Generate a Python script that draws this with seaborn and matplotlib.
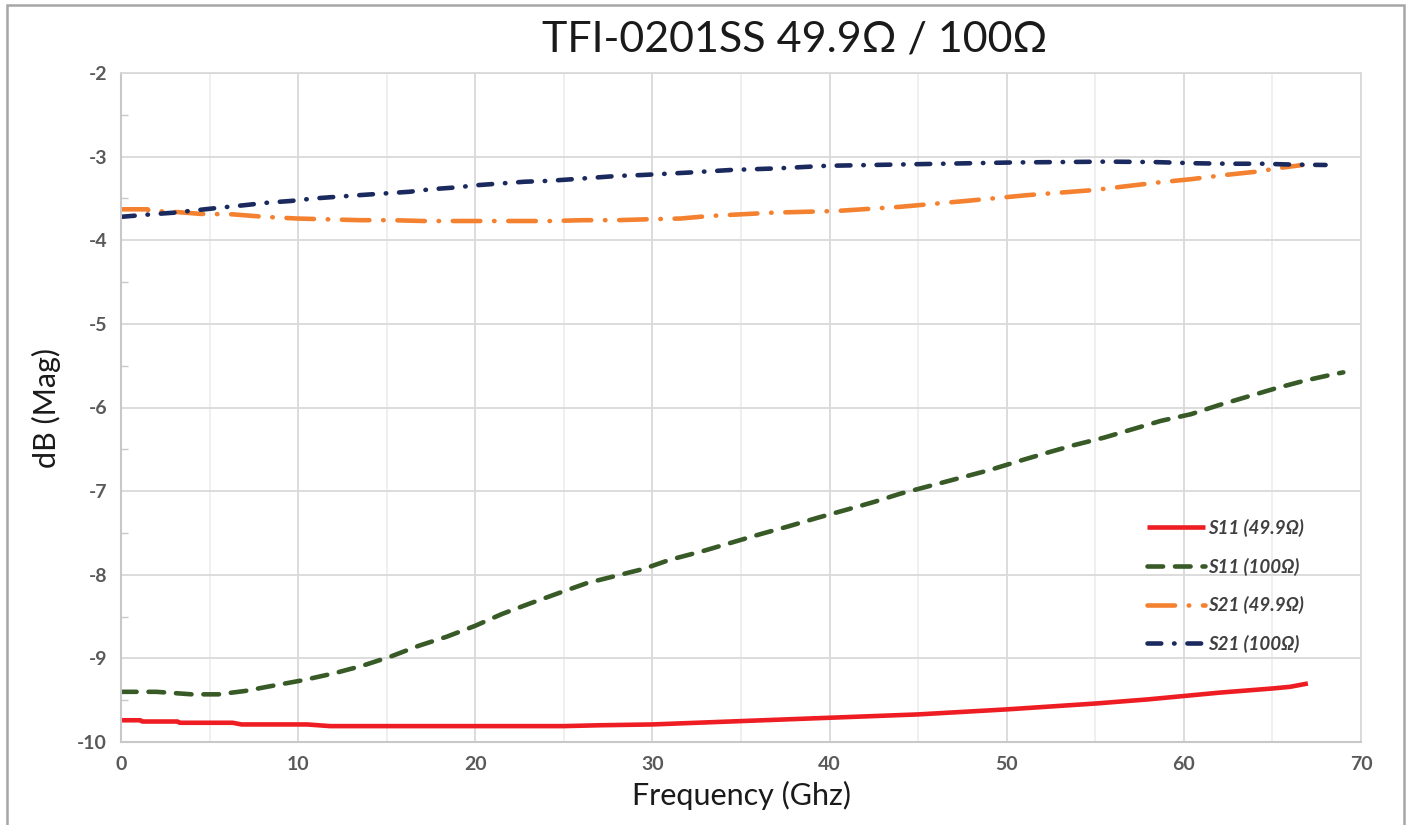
import matplotlib
matplotlib.use("Agg")
import matplotlib.pyplot as plt
import matplotlib.patches as mpatches
from matplotlib.ticker import MultipleLocator
import seaborn as sns
import pandas as pd

# ---- data ----
title = "TFI-0201SS 49.9Ω / 100Ω"
series_names = ["S11 (49.9Ω)", "S11 (100Ω)", "S21 (49.9Ω)", "S21 (100Ω)"]

s11_50_f = [0, 1.1, 1.2, 3.2, 3.3, 6.3, 6.8, 10.5, 11.8, 20, 25, 27, 30, 35, 40, 45, 50, 55, 58, 60, 62, 65, 66, 67]
s11_50_v = [-9.74, -9.74, -9.755, -9.755, -9.77, -9.77, -9.79, -9.79, -9.81, -9.81, -9.81, -9.80, -9.79, -9.75,
            -9.71, -9.67, -9.61, -9.54, -9.49, -9.45, -9.41, -9.36, -9.34, -9.30]

s11_100_f = [0, 2, 4, 5.5, 7, 8.5, 10.3, 12, 13.6, 15.2, 16.8, 18.4, 20, 21.5, 23, 24.7, 26.3, 28, 29.5, 31,
             32.8, 34.4, 36, 37.7, 39.3, 41, 42.5, 44, 45.8, 47.4, 49, 50.7, 52.3, 53.8, 55.5, 57.1, 58.7, 60.4,
             62, 63.6, 65.2, 66.8, 68.5, 69]
s11_100_v = [-9.40, -9.40, -9.43, -9.43, -9.39, -9.33, -9.26, -9.18, -9.09, -8.98, -8.85, -8.74, -8.61, -8.47,
             -8.35, -8.22, -8.10, -8.01, -7.93, -7.82, -7.72, -7.62, -7.52, -7.42, -7.32, -7.22, -7.13, -7.03,
             -6.93, -6.84, -6.75, -6.64, -6.54, -6.45, -6.36, -6.26, -6.16, -6.08, -5.97, -5.87, -5.77, -5.68,
             -5.60, -5.58]

s21_50_f = [0, 1.5, 1.6, 3, 4.5, 6.3, 8.1, 9.9, 11.7, 13.5, 15.3, 17.1, 19, 22.5, 24.3, 26.1, 28, 29.6, 31.6,
            33.2, 36.8, 40.4, 44, 47.7, 51.2, 54.9, 58.5, 60.4, 62.3, 64.1, 65.6, 66.7]
s21_50_v = [-3.63, -3.63, -3.65, -3.66, -3.685, -3.69, -3.72, -3.74, -3.75, -3.76, -3.76, -3.77, -3.77, -3.77,
            -3.77, -3.76, -3.76, -3.75, -3.74, -3.71, -3.67, -3.65, -3.60, -3.53, -3.46, -3.40, -3.31, -3.27,
            -3.22, -3.18, -3.13, -3.10]

s21_100_f = [0, 1.7, 3, 4.3, 5.6, 7, 8.3, 9.6, 10.9, 12.2, 13.5, 14.9, 16.3, 17.5, 18.8, 20.2, 21.5, 22.8, 24.1,
             25.5, 26.8, 28.1, 29.4, 32.1, 34.4, 37.1, 39.8, 42.4, 45, 47.7, 50.3, 53, 55.7, 58.3, 60.8, 62.6,
             64.4, 66.1, 68]
s21_100_v = [-3.72, -3.69, -3.67, -3.64, -3.61, -3.58, -3.55, -3.53, -3.50, -3.48, -3.46, -3.44, -3.42, -3.39,
             -3.37, -3.34, -3.32, -3.30, -3.29, -3.27, -3.25, -3.23, -3.22, -3.19, -3.16, -3.14, -3.11, -3.10,
             -3.09, -3.08, -3.07, -3.065, -3.06, -3.065, -3.08, -3.085, -3.085, -3.095, -3.10]

x_ticks = [0, 10, 20, 30, 40, 50, 60, 70]
y_ticks = [-10, -9, -8, -7, -6, -5, -4, -3, -2]

# ---- styling ----
sns.set_theme(style="white")
plt.rcParams["font.family"] = ["Lato", "DejaVu Sans"]

colors = ["#EE1D23", "#375A27", "#F4812F", "#1B2A5E"]
lw = 3.3
styles = [
    "-",
    (0, (3.4, 2.6)),
    (0, (6.0, 3.0, 0.1, 3.0)),
    (0, (3.0, 2.8, 0.1, 2.8)),
]

frames = []
for name, f, v in [(series_names[0], s11_50_f, s11_50_v),
                   (series_names[1], s11_100_f, s11_100_v),
                   (series_names[2], s21_50_f, s21_50_v),
                   (series_names[3], s21_100_f, s21_100_v)]:
    frames.append(pd.DataFrame({"Frequency": f, "dB": v, "series": name}))
df = pd.concat(frames, ignore_index=True)

fig = plt.figure(figsize=(14.11, 8.25), dpi=100)
ax = fig.add_axes([121 / 1411, 1 - 742 / 825, (1361 - 121) / 1411, (742 - 73) / 825])

for i, name in enumerate(series_names):
    sub = df[df["series"] == name]
    sns.lineplot(data=sub, x="Frequency", y="dB", ax=ax, color=colors[i], linewidth=lw,
                 estimator=None, sort=False, label=name)
    line = ax.lines[-1]
    line.set_linestyle(styles[i])
    line.set_dash_capstyle("round")
    line.set_solid_capstyle("butt")

ax.set_xlim(0, 70)
ax.set_ylim(-10, -2)
ax.set_xticks(x_ticks)
ax.set_yticks(y_ticks)
ax.xaxis.set_minor_locator(MultipleLocator(5))
ax.yaxis.set_minor_locator(MultipleLocator(0.5))
ax.grid(which="major", axis="both", color="#d9d9d9", linewidth=1.3)
ax.grid(which="minor", axis="x", color="#ececec", linewidth=1.2)
ax.set_axisbelow(True)
for side in ["top", "right"]:
    ax.spines[side].set_color("#d9d9d9")
    ax.spines[side].set_linewidth(1.3)
for side in ["left", "bottom"]:
    ax.spines[side].set_color("#c8c8c8")
    ax.spines[side].set_linewidth(1.5)

ax.tick_params(axis="both", which="major", labelsize=14, labelcolor="#595959", length=0, pad=10)
ax.tick_params(axis="y", which="minor", direction="in", length=5, width=1, color="#c8c8c8", left=True)
ax.tick_params(axis="x", which="minor", length=0)
ax.set_xticklabels([str(t) for t in x_ticks])
ax.set_yticklabels([str(t) for t in y_ticks])
for lab in ax.get_xticklabels() + ax.get_yticklabels():
    lab.set_fontweight("bold")

ax.set_xlabel("Frequency (Ghz)", fontsize=22, color="#1a1a1a", labelpad=6)
ax.set_ylabel("dB (Mag)", fontsize=22, color="#1a1a1a", labelpad=12)

fig.text(795 / 1411, 1 - 40 / 825, title, fontsize=31, ha="center", va="center", color="#1a1a1a")

leg = ax.legend(loc="upper left", bbox_to_anchor=((1130 - 121) / 1240, (742 - 502) / 669),
                frameon=False, handlelength=3.1, handletextpad=0.15, labelspacing=1.1,
                prop={"style": "italic", "size": 13.5, "weight": "bold"})
for t in leg.get_texts():
    t.set_color("#404040")

# outer chart border
border = mpatches.Rectangle((7 / 1411, -0.02), (1404 - 7) / 1411, 1.02 - 5 / 825,
                            transform=fig.transFigure, fill=False, edgecolor="#a6a6a6", linewidth=1.8)
fig.patches.append(border)

fig.savefig("out.png", dpi=100)
